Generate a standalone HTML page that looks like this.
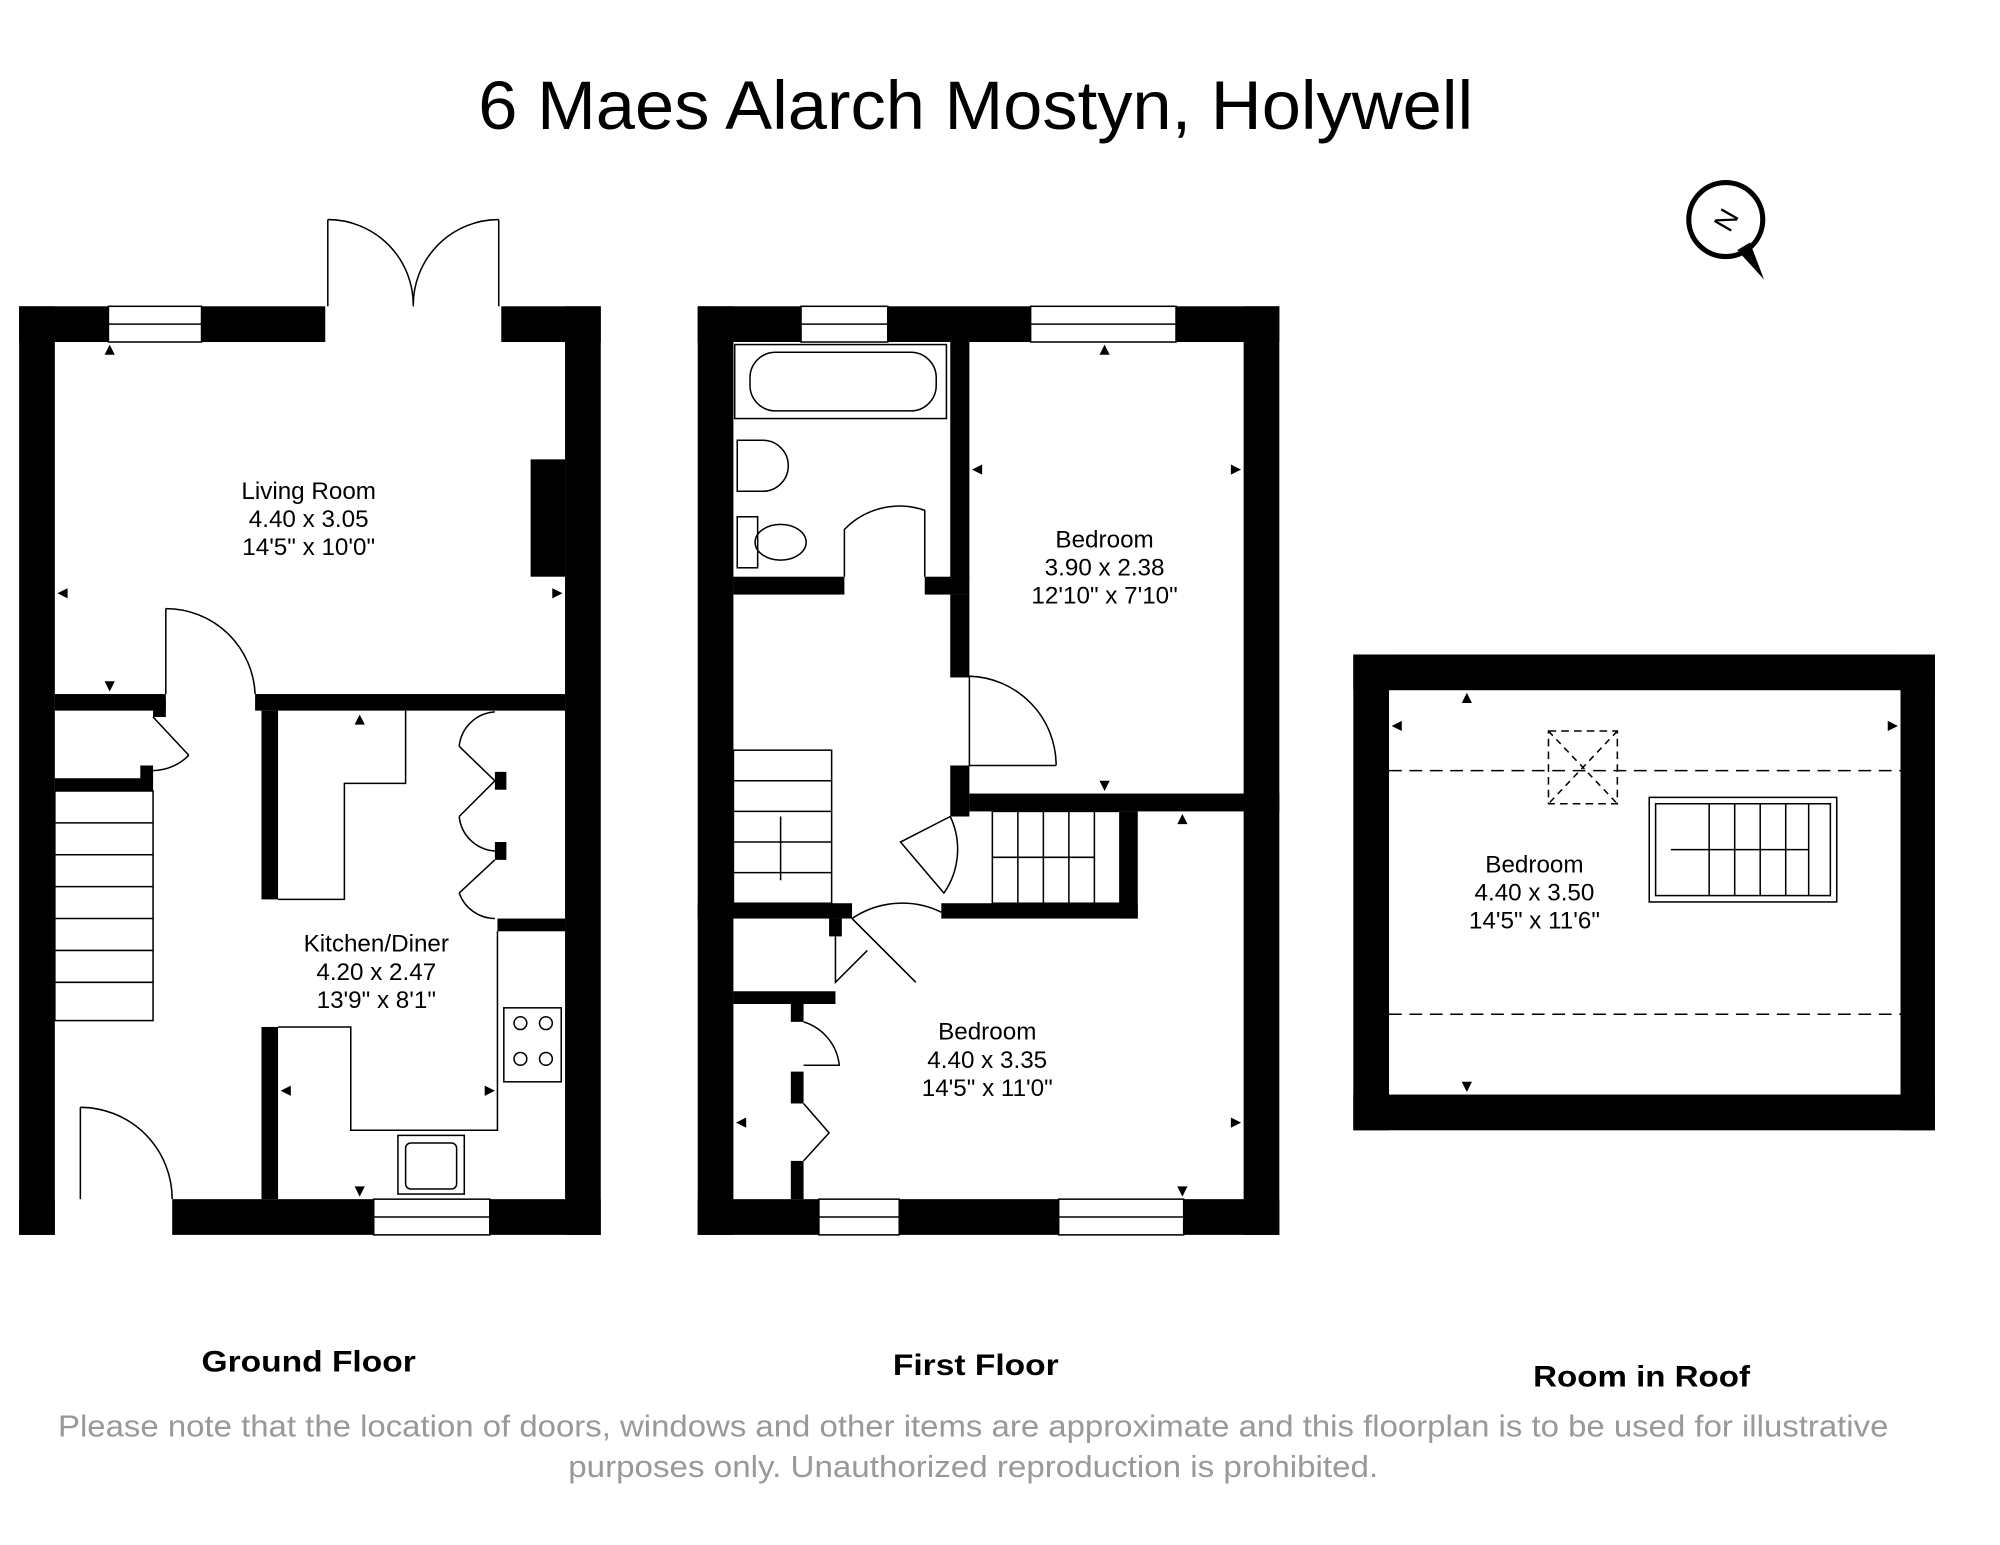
<!DOCTYPE html>
<html><head><meta charset="utf-8"><style>
html,body{margin:0;padding:0;background:#fff;}
svg{display:block;}
text{font-family:"Liberation Sans",sans-serif;}
</style></head><body>
<svg width="2000" height="1545" viewBox="0 0 1568 1211" xmlns="http://www.w3.org/2000/svg">
<rect width="1568" height="1211" fill="#fff"/>
<text x="765" y="101" font-size="54" text-anchor="middle" fill="#000" textLength="780" lengthAdjust="spacingAndGlyphs">6 Maes Alarch Mostyn, Holywell</text>

<!-- compass -->
<circle cx="1353" cy="172" r="29" fill="none" stroke="#000" stroke-width="4"/>
<text x="1353" y="180" font-size="22" text-anchor="middle" transform="rotate(-60 1353 172)">N</text>
<polygon points="1362,196 1383,219 1372,190" fill="#000"/>

<g fill="#000">
<!-- GROUND FLOOR -->
<rect x="15" y="240" width="70" height="28"/>
<rect x="158" y="240" width="97" height="28"/>
<rect x="393" y="240" width="78" height="28"/>
<rect x="15" y="240" width="28" height="728"/>
<rect x="443" y="240" width="28" height="728"/>
<rect x="135" y="940" width="158" height="28"/>
<rect x="384" y="940" width="87" height="28"/>
<rect x="15" y="940" width="28" height="28"/>
<rect x="416" y="360" width="27" height="92"/>
<rect x="43" y="544" width="87" height="13"/>
<rect x="200" y="544" width="243" height="13"/>
<rect x="43" y="610" width="77" height="10"/>
<rect x="205" y="557" width="13" height="148"/>
<rect x="205" y="805" width="13" height="135"/>
<rect x="390" y="720" width="53" height="10"/>
<rect x="388" y="605" width="9" height="14"/>
<rect x="388" y="660" width="9" height="14"/>
<rect x="120" y="548" width="10" height="14"/>
<rect x="110" y="600" width="10" height="14"/>

<!-- FIRST FLOOR -->
<rect x="547" y="240" width="81" height="28"/>
<rect x="696" y="240" width="112" height="28"/>
<rect x="922" y="240" width="81" height="28"/>
<rect x="547" y="240" width="28" height="728"/>
<rect x="975" y="240" width="28" height="728"/>
<rect x="547" y="940" width="95" height="28"/>
<rect x="705" y="940" width="125" height="28"/>
<rect x="928" y="940" width="75" height="28"/>
<rect x="575" y="452" width="87" height="14"/>
<rect x="745" y="268" width="15" height="186"/>
<rect x="725" y="452" width="35" height="14"/>
<rect x="745" y="466" width="15" height="65"/>
<rect x="745" y="600" width="15" height="40"/>
<rect x="760" y="622" width="243" height="14"/>
<rect x="878" y="636" width="14" height="84"/>
<rect x="738" y="708" width="154" height="12"/>
<rect x="547" y="708" width="121" height="12"/>
<rect x="575" y="777" width="80" height="10"/>
<rect x="620" y="787" width="10" height="14"/>
<rect x="620" y="840" width="10" height="25"/>
<rect x="620" y="910" width="10" height="30"/>
<rect x="650" y="720" width="10" height="14"/>

<!-- ROOF -->
<rect x="1061" y="513" width="456" height="28"/>
<rect x="1061" y="513" width="28" height="373"/>
<rect x="1490" y="513" width="27" height="373"/>
<rect x="1061" y="858" width="456" height="28"/>
</g>

<g fill="none" stroke="#000" stroke-width="1.2">
<rect x="85" y="240" width="73" height="28"/><line x1="85" y1="254" x2="158" y2="254"/>
<rect x="293" y="940" width="91" height="28"/><line x1="293" y1="954" x2="384" y2="954"/>
<rect x="628" y="240" width="68" height="28"/><line x1="628" y1="254" x2="696" y2="254"/>
<rect x="808" y="240" width="114" height="28"/><line x1="808" y1="254" x2="922" y2="254"/>
<rect x="642" y="940" width="63" height="28"/><line x1="642" y1="954" x2="705" y2="954"/>
<rect x="830" y="940" width="98" height="28"/><line x1="830" y1="954" x2="928" y2="954"/>
<line x1="257" y1="172" x2="257" y2="240"/><line x1="391" y1="172" x2="391" y2="240"/>
<path d="M257 172 A67 67 0 0 1 324 240"/><path d="M391 172 A67 67 0 0 0 324 240"/>
<line x1="63" y1="868" x2="63" y2="940"/><path d="M63 868 A72 72 0 0 1 135 940"/>
<line x1="130" y1="477" x2="130" y2="544"/><path d="M130 477 A70 70 0 0 1 200 544"/>
<path d="M120 562 L148 592 M148 592 A40 40 0 0 1 120 604"/>
<rect x="43" y="620" width="77" height="180"/>
<line x1="43" y1="645" x2="120" y2="645"/><line x1="43" y1="670" x2="120" y2="670"/>
<line x1="43" y1="695" x2="120" y2="695"/><line x1="43" y1="720" x2="120" y2="720"/>
<line x1="43" y1="745" x2="120" y2="745"/><line x1="43" y1="770" x2="120" y2="770"/>
<polyline points="218,705 270,705 270,614 318,614 318,557"/>
<polyline points="218,805 275,805 275,886 390,886 390,730"/>
<path d="M388 612 L360 585 M360 585 A30 30 0 0 1 388 558"/>
<path d="M388 612 L360 640 M360 640 A30 30 0 0 0 388 667"/>
<path d="M388 674 L360 700 M360 700 A30 30 0 0 0 388 720"/>
<rect x="395" y="790" width="45" height="58"/>
<circle cx="408" cy="802" r="5"/><circle cx="428" cy="802" r="5"/><circle cx="408" cy="830" r="5"/><circle cx="428" cy="830" r="5"/>
<rect x="312" y="890" width="52" height="46"/><rect x="318" y="896" width="40" height="36" rx="4"/>
<rect x="576" y="270" width="166" height="58"/><rect x="588" y="276" width="146" height="46" rx="20"/>
<path d="M578 345 h20 a12 12 0 0 1 0 40 h-20 z"/>
<rect x="578" y="405" width="16" height="40"/><ellipse cx="612" cy="425" rx="20" ry="14"/>
<path d="M662 452 L662 415 A60 60 0 0 1 725 400 L725 452"/>
<line x1="760" y1="530" x2="760" y2="600"/><path d="M760 530 A70 70 0 0 1 828 600"/><line x1="760" y1="600" x2="828" y2="600"/>
<rect x="575" y="588" width="77" height="120"/>
<line x1="575" y1="612" x2="652" y2="612"/><line x1="575" y1="636" x2="652" y2="636"/><line x1="575" y1="660" x2="652" y2="660"/><line x1="575" y1="684" x2="652" y2="684"/>
<line x1="612" y1="640" x2="612" y2="690"/>
<rect x="778" y="636" width="100" height="72"/>
<line x1="798" y1="636" x2="798" y2="708"/><line x1="818" y1="636" x2="818" y2="708"/><line x1="838" y1="636" x2="838" y2="708"/><line x1="858" y1="636" x2="858" y2="708"/><line x1="778" y1="672" x2="858" y2="672"/>
<path d="M745 640 L706 660 L740 700 A60 60 0 0 0 745 640"/>
<path d="M668 720 L718 770 M668 720 A70 70 0 0 1 738 715"/>
<path d="M655 734 L655 770 L680 745"/>
<path d="M630 801 A40 40 0 0 1 658 835 L630 835"/>
<path d="M630 865 L650 888 L630 910"/>
<line x1="1089" y1="604" x2="1490" y2="604" stroke-dasharray="10 6"/>
<line x1="1089" y1="795" x2="1490" y2="795" stroke-dasharray="10 6"/>
<rect x="1214" y="573" width="54" height="57" stroke-dasharray="6 4"/>
<line x1="1214" y1="573" x2="1268" y2="630" stroke-dasharray="5 4"/><line x1="1268" y1="573" x2="1214" y2="630" stroke-dasharray="5 4"/>
<rect x="1293" y="625" width="147" height="82"/><rect x="1298" y="630" width="137" height="72"/>
<line x1="1340" y1="630" x2="1340" y2="702"/><line x1="1360" y1="630" x2="1360" y2="702"/><line x1="1380" y1="630" x2="1380" y2="702"/><line x1="1400" y1="630" x2="1400" y2="702"/><line x1="1418" y1="630" x2="1418" y2="702"/>
<line x1="1310" y1="666" x2="1418" y2="666"/>
</g>

<g fill="#000">
<polygon points="86,270 82,278 90,278"/><polygon points="86,542 82,534 90,534"/>
<polygon points="45,465 53,461 53,469"/><polygon points="441,465 433,461 433,469"/>
<polygon points="282,560 278,568 286,568"/><polygon points="282,938 278,930 286,930"/>
<polygon points="220,855 228,851 228,859"/><polygon points="388,855 380,851 380,859"/>
<polygon points="866,270 862,278 870,278"/><polygon points="866,620 862,612 870,612"/>
<polygon points="762,368 770,364 770,372"/><polygon points="973,368 965,364 965,372"/>
<polygon points="927,638 923,646 931,646"/><polygon points="927,938 923,930 931,930"/>
<polygon points="577,880 585,876 585,884"/><polygon points="973,880 965,876 965,884"/>
<polygon points="1150,543 1146,551 1154,551"/><polygon points="1150,856 1146,848 1154,848"/>
<polygon points="1091,569 1099,565 1099,573"/><polygon points="1488,569 1480,565 1480,573"/>
</g>

<g font-size="19" text-anchor="middle" fill="#000">
<text x="242" y="391">Living Room</text><text x="242" y="413">4.40 x 3.05</text><text x="242" y="435">14'5" x 10'0"</text>
<text x="295" y="746">Kitchen/Diner</text><text x="295" y="768">4.20 x 2.47</text><text x="295" y="790">13'9" x 8'1"</text>
<text x="866" y="429">Bedroom</text><text x="866" y="451">3.90 x 2.38</text><text x="866" y="473">12'10" x 7'10"</text>
<text x="774" y="815">Bedroom</text><text x="774" y="837">4.40 x 3.35</text><text x="774" y="859">14'5" x 11'0"</text>
<text x="1203" y="684">Bedroom</text><text x="1203" y="706">4.40 x 3.50</text><text x="1203" y="728">14'5" x 11'6"</text>
</g>
<g font-size="23" font-weight="bold" text-anchor="middle" fill="#000">
<text x="242" y="1075" textLength="168" lengthAdjust="spacingAndGlyphs">Ground Floor</text>
<text x="765" y="1078" textLength="130" lengthAdjust="spacingAndGlyphs">First Floor</text>
<text x="1287" y="1087" textLength="170" lengthAdjust="spacingAndGlyphs">Room in Roof</text>
</g>
<g font-size="24" text-anchor="middle" fill="#999">
<text x="763" y="1126" textLength="1435" lengthAdjust="spacingAndGlyphs">Please note that the location of doors, windows and other items are approximate and this floorplan is to be used for illustrative</text>
<text x="763" y="1158" textLength="635" lengthAdjust="spacingAndGlyphs">purposes only. Unauthorized reproduction is prohibited.</text>
</g>
</svg>
</body></html>
